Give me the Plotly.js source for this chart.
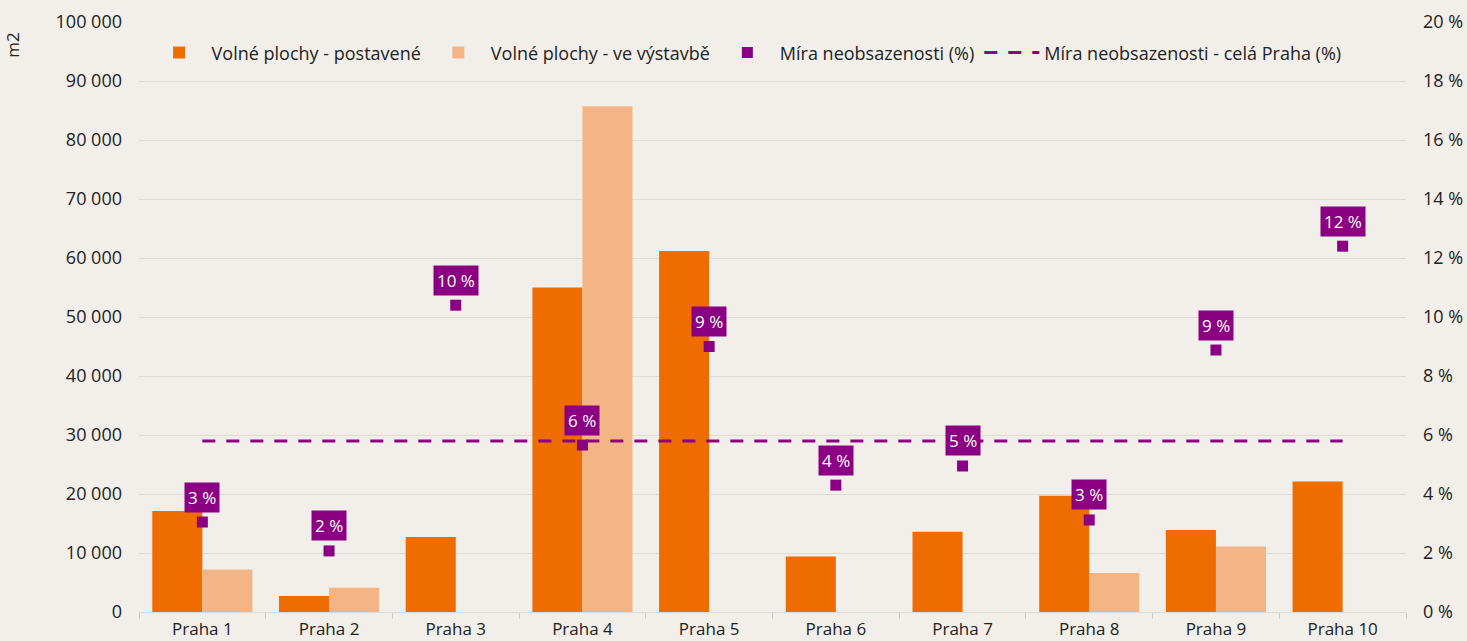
<!DOCTYPE html>
<html>
<head>
<meta charset="utf-8">
<script src="https://cdn.plot.ly/plotly-3.0.1.min.js"></script>
<style>html,body{margin:0;padding:0;background:#f2efea;}#chart{width:1467px;height:641px;}</style>
</head>
<body>
<div id="chart"></div>
<script>
const categories = ["Praha 1","Praha 2","Praha 3","Praha 4","Praha 5","Praha 6","Praha 7","Praha 8","Praha 9","Praha 10"];
const built = [17100, 2700, 12700, 55000, 61200, 9400, 13600, 19700, 13900, 22100];
const underConstruction = [7200, 4100, 0, 85700, 0, 0, 0, 6600, 11100, 0];
const vacancyRate = [3.05, 2.07, 10.4, 5.66, 9.0, 4.3, 4.95, 3.12, 8.88, 12.4];
const pragueVacancy = 5.8;
const pragueLine = categories.map(() => pragueVacancy);

const purple = "#8b0082";
const fontFam = "'Open Sans', sans-serif";

const traces = [
  {type:"bar", name:"Volné plochy - postavené", x:categories, y:built, marker:{color:"#ef6c00"}, legendrank:1},
  {type:"bar", name:"Volné plochy - ve výstavbě", x:categories, y:underConstruction, marker:{color:"#f3b585"}, legendrank:2},
  {type:"scatter", mode:"lines", name:"Míra neobsazenosti - celá Praha (%)", x:categories, y:pragueLine, yaxis:"y2",
   line:{color:purple, width:3, dash:"13px,11px"}, legendrank:4},
  {type:"scatter", mode:"markers", name:"Míra neobsazenosti (%)", x:categories, y:vacancyRate, yaxis:"y2",
   marker:{color:purple, symbol:"square", size:11}, legendrank:3}
];

const annotations = categories.map((c, i) => ({
  x: c, y: vacancyRate[i], xref:"x", yref:"y2",
  text: Math.round(vacancyRate[i]) + " %",
  showarrow:false, yshift:25,
  bgcolor:purple, borderpad:3,
  font:{color:"#ffffff", size:17, family:fontFam}
}));
annotations.push({
  xref:"paper", yref:"paper", x:-0.1, y:0.985, xanchor:"center", yanchor:"top",
  text:"m2", textangle:-90, showarrow:false,
  font:{size:17, color:"#222", family:fontFam}
});

const layout = {
  width:1467, height:641,
  paper_bgcolor:"#f2efea", plot_bgcolor:"#f2efea",
  margin:{l:139, r:61, t:22, b:29},
  separators:". ",
  font:{family:fontFam, size:18, color:"#222"},
  barmode:"group", bargap:0.21, bargroupgap:0,
  showlegend:true,
  legend:{orientation:"h", x:0.006, y:0.979, xanchor:"left", yanchor:"top", bgcolor:"rgba(0,0,0,0)",
    font:{size:18}, traceorder:"normal", itemwidth:55},
  xaxis:{type:"category", range:[-0.5, 9.5], showgrid:false, ticks:"outside", tickson:"boundaries", ticklen:6, tickcolor:"#cfcfcf",
    showline:true, linecolor:"#d9d9d9", linewidth:1, tickfont:{size:17}, zeroline:false, ticklabelstandoff:2},
  yaxis:{range:[0,100000], dtick:10000, tickformat:",d", gridcolor:"#dedbd7", gridwidth:1, zeroline:false,
    showline:false, ticks:"", tickfont:{size:18}, automargin:false, ticklabelstandoff:16},
  yaxis2:{overlaying:"y", side:"right", range:[0,20], dtick:2, ticksuffix:" %", showgrid:false, zeroline:false,
    tickfont:{size:18}, automargin:false, ticklabelstandoff:16},
  annotations:annotations
};

Plotly.newPlot("chart", traces, layout, {displayModeBar:false, staticPlot:true});
</script>
</body>
</html>
